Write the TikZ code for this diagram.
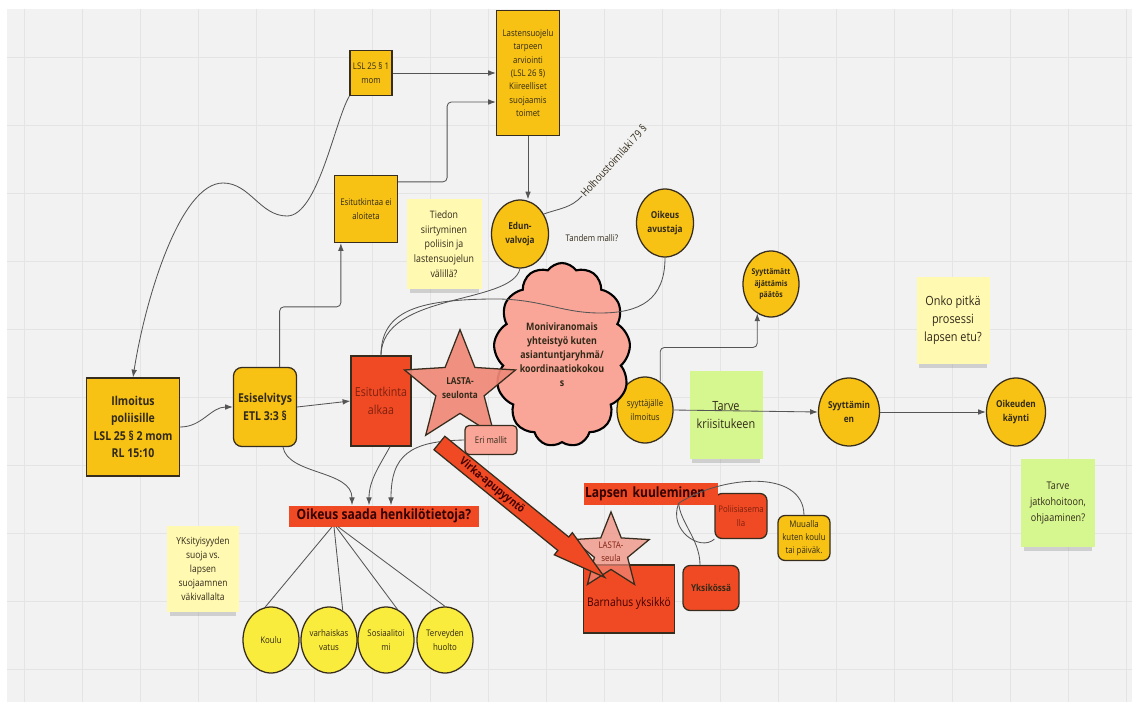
\documentclass[tikz,border=0pt]{standalone}
\usepackage{fontspec}
\setmainfont[FakeStretch=0.86]{Open Sans}
\usepackage{tikz}
\usetikzlibrary{shapes.geometric,shapes.symbols,shapes.arrows,shadows,arrows.meta,calc}
\newcommand{\pu}{0.025cm}

\definecolor{gold}{RGB}{247,194,20}
\definecolor{redfill}{RGB}{240,74,36}
\definecolor{salmon}{RGB}{240,136,120}
\definecolor{pinkish}{RGB}{249,165,152}
\definecolor{lemon}{RGB}{250,236,60}
\definecolor{notey}{RGB}{255,249,178}
\definecolor{noteg}{RGB}{214,246,143}
\definecolor{board}{RGB}{242,242,242}
\definecolor{gridc}{RGB}{228,228,228}
\definecolor{edge}{RGB}{55,45,30}
\definecolor{ink}{RGB}{50,42,25}
\definecolor{darkred}{RGB}{125,32,15}
\definecolor{wirec}{RGB}{85,85,85}

\tikzset{
  lawbox/.style={draw=edge,line width=0.9pt,fill=gold,text=ink,align=center,inner sep=1pt},
  redblock/.style={draw=edge,line width=0.9pt,fill=redfill,text=darkred,align=center,inner sep=1pt},
  ball/.style={ellipse,draw=edge,line width=0.9pt,fill=gold,text=ink,align=center,inner sep=0pt,
    minimum width=57*\pu,minimum height=68*\pu},
  sticky/.style={fill=notey,text=ink,align=center,inner sep=1pt,
    drop shadow={shadow xshift=0pt,shadow yshift=-6pt,shadow scale=0.92,opacity=0.3}},
  tag/.style={fill=redfill,text=black!80!red,font=\bfseries\fontsize{10}{12}\selectfont,inner sep=1pt},
  smalltxt/.style={font=\fontsize{6.5}{9.5}\selectfont},
  boldtxt/.style={font=\bfseries\fontsize{6.8}{9.5}\selectfont},
  wire/.style={draw=wirec,line width=0.6pt},
  >={Latex[length=5.5pt,width=4pt]}
}

\begin{document}
\begin{tikzpicture}[x=0.025cm,y=-0.025cm]
\useasboundingbox (0,0) rectangle (1132,702);
\fill[white] (0,0) rectangle (1132,702);
\fill[board] (7,9) rectangle (1132,702);
\foreach \gx in {24,82,...,1130}{
  \draw[gridc,line width=0.5pt] (\gx,9) -- (\gx,702);
}
\foreach \gy in {57,125,...,700}{
  \draw[gridc,line width=0.5pt] (7,\gy) -- (1132,\gy);
}

% sticky notes
\node[sticky,minimum width=75*\pu,minimum height=89*\pu,font=\fontsize{7.3}{10.4}\selectfont] (tiedon) at (444,244) {Tiedon\\siirtyminen\\poliisin ja\\lastensuojelun\\välillä?};
\node[sticky,minimum width=73*\pu,minimum height=87*\pu,font=\fontsize{9}{13}\selectfont] (onko) at (953,320) {Onko pitkä\\prosessi\\lapsen etu?};
\node[sticky,fill=noteg,minimum width=73*\pu,minimum height=88*\pu,font=\fontsize{9}{13}\selectfont] (kriisi) at (726,415) {Tarve\\kriisitukeen};
\node[sticky,fill=noteg,minimum width=74*\pu,minimum height=88*\pu,font=\fontsize{7.5}{11.5}\selectfont] (jatko) at (1058,503) {Tarve\\jatkohoitoon,\\ohjaaminen?};
\node[sticky,minimum width=72*\pu,minimum height=86*\pu,font=\fontsize{7}{10}\selectfont] (yksit) at (203,569) {YKsityisyyden\\suoja vs.\\lapsen\\suojaamnen\\väkivallalta};

% law boxes
\node[lawbox,minimum width=93*\pu,minimum height=98*\pu,font=\bfseries\fontsize{8.7}{12.2}\selectfont] (ilmo) at (133,427) {Ilmoitus\\poliisille\\LSL 25 § 2 mom\\RL 15:10};
\node[lawbox,rounded corners=6pt,minimum width=63*\pu,minimum height=79*\pu,font=\bfseries\fontsize{8.7}{12.2}\selectfont] (esis) at (265,407) {Esiselvitys\\ETL 3:3 §};
\node[lawbox,smalltxt,minimum width=42*\pu,minimum height=45*\pu] (lsl) at (371,73) {LSL 25 § 1\\mom};
\node[lawbox,smalltxt,minimum width=63*\pu,minimum height=125*\pu] (lsu) at (528,73) {Lastensuojelu\\tarpeen\\arviointi\\(LSL 26 §)\\Kiireelliset\\suojaamis\\toimet};
\node[lawbox,smalltxt,minimum width=63*\pu,minimum height=67*\pu] (ei) at (366,209) {Esitutkintaa ei\\aloiteta};

% red blocks
\node[redblock,minimum width=60*\pu,minimum height=90*\pu,font=\fontsize{8.8}{12.5}\selectfont] (esit) at (381,401) {Esitutkinta\\alkaa};
\node[redblock,text=black!75!red,minimum width=91*\pu,minimum height=68*\pu,font=\fontsize{8.5}{11}\selectfont] (barn) at (629,599) {\\[2pt]Barnahus yksikkö};

% round ones
\node[ball,boldtxt] (edun) at (520,234) {Edun-\\valvoja};
\node[ball,boldtxt] (oik) at (665,223) {Oikeus\\avustaja};
\node[ball,font=\bfseries\fontsize{5.7}{8}\selectfont,minimum width=56*\pu,minimum height=66*\pu] (syp) at (771,284) {Syyttämätt\\äjättämis\\päätös};
\node[ball,smalltxt,minimum width=56*\pu,minimum height=66*\pu] (syi) at (645,410) {syyttäjälle\\ilmoitus};
\node[ball,boldtxt,minimum width=61*\pu] (syn) at (849,412) {Syyttämin\\en};
\node[ball,boldtxt,minimum width=59*\pu] (oke) at (1016,412) {Oikeuden\\käynti};
\node[ball,smalltxt,fill=lemon,minimum width=56*\pu,minimum height=66*\pu] (koulu) at (271,640) {Koulu};
\node[ball,smalltxt,fill=lemon,minimum width=56*\pu,minimum height=66*\pu] (varh) at (329,640) {varhaiskas\\vatus};
\node[ball,smalltxt,fill=lemon,minimum width=56*\pu,minimum height=66*\pu] (sos) at (386,640) {Sosiaalitoi\\mi};
\node[ball,smalltxt,fill=lemon,minimum width=56*\pu,minimum height=66*\pu] (terv) at (445,640) {Terveyden\\huolto};

% cloud and stars
\node[cloud,cloud puffs=13,cloud puff arc=110,aspect=0.7,draw=black,line width=1.5pt,fill=pinkish,
  text=ink,align=center,inner sep=0pt,minimum width=130*\pu,minimum height=184*\pu,
  font=\bfseries\fontsize{7.3}{10}\selectfont] (moni) at (562,355) {Moniviranomais\\yhteistyö kuten\\asiantuntjaryhmä/\\koordinaatiokokou\\s};
\node[star,star points=5,star point ratio=2.3,draw=edge,line width=0.9pt,fill=salmon,fill opacity=0.92,text opacity=1,
  text=ink,align=center,inner sep=0pt,minimum size=112*\pu,font=\bfseries\fontsize{6.8}{9.5}\selectfont] (lasta) at (460,388) {LASTA-\\seulonta};
\node[star,star points=5,star point ratio=2.3,draw=edge,line width=0.9pt,fill=salmon,fill opacity=0.7,text opacity=1,
  text=darkred,align=center,inner sep=0pt,minimum size=74*\pu,smalltxt] (seula) at (611,552) {LASTA-\\seula};

% rounded small boxes
\node[redblock,fill=pinkish,text=ink,rounded corners=3pt,smalltxt,minimum width=52*\pu,minimum height=29*\pu] (eri) at (491,440) {Eri mallit};
\node[redblock,rounded corners=5pt,smalltxt,minimum width=52*\pu,minimum height=45*\pu] (pol) at (741,516) {Poliisiasema\\lla};
\node[lawbox,rounded corners=5pt,smalltxt,minimum width=52*\pu,minimum height=45*\pu] (mua) at (804,538) {Muualla\\kuten koulu\\tai päiväk.};
\node[redblock,text=ink,rounded corners=5pt,boldtxt,minimum width=56*\pu,minimum height=45*\pu] (yks) at (711,588) {Yksikössä};

% labels
\node[tag,minimum width=190*\pu,minimum height=21*\pu] (opi) at (384,516) {Oikeus saada henkilötietoja?};
\node[tag,minimum width=132*\pu,minimum height=22*\pu,text width=132*\pu] (lk) at (651,494) {Lapsen kuuleminen};
\node[smalltxt,text=ink] (tandem) at (592,238) {Tandem malli?};
\coordinate (hol) at (582,196);
\node[font=\fontsize{7.6}{9}\selectfont,text=ink,rotate=48,anchor=west,inner sep=0.5pt] (holtxt) at (hol) {Holhoustoimilaki 79 §};

% connectors
\draw[wire,->] (ilmo.east) to[out=0,in=180] (esis.west);
\draw[wire,->] (esis.east) -- (esit.west);
\draw[wire,->,rounded corners=3pt] (esis.70) -- ++(0,-60) -| ($(ei.south west)+(7,0)$);
\draw[wire,->,rounded corners=3pt] ($(ei.north east)+(0,7)$) -- ++(49,0) |- ($(lsu.west)+(0,29)$);
\draw[wire,->] (lsl.east) -- (lsl.east -| lsu.west);
\draw[wire,->] (lsu.south) -- (lsu.south |- edun.north);
\draw[wire,->] (lsl.south west) .. controls (335,120) and (318,216) .. (287,216)
  .. controls (260,216) and (250,183) .. (223,183)
  .. controls (180,183) and (145,300) .. (ilmo.north);
\draw[wire] (edun.40) to[out=20,in=228] (hol);
\draw[wire] (edun.south) .. controls (512,305) and (382,292) .. (esit.north);
\draw[wire] (oik.south) .. controls (665,300) and (640,313) .. (600,313)
  .. controls (560,313) and (540,298) .. (490,299)
  .. controls (420,300) and (381,310) .. (esit.north);
\draw[wire,->] ($(esis.south)+(18,0)$) .. controls (288,475) and (352,470) .. ($(opi.north)+(-32,0)$);
\draw[wire,->] ($(esit.south)+(9,0)$) .. controls (380,465) and (369,480) .. ($(opi.north)+(-15,0)$);
\draw[wire,->] (eri.west) .. controls (410,441) and (391,455) .. ($(opi.north)+(7,0)$);
\draw[wire] ($(opi.south)+(-52,0)$) -- (koulu.100);
\draw[wire] ($(opi.south)+(-50,0)$) -- (varh.65);
\draw[wire] ($(opi.south)+(-48,0)$) -- (sos.70);
\draw[wire] ($(opi.south)+(-46,0)$) -- (terv.north);
\draw[wire,->,rounded corners=3pt] (syi.62) -- ++(0,-34) -| (syp.-115);
\draw[wire,->] (syi.east) -- (syn.west);
\draw[wire,->] (syn.east) -- (oke.west);
\coordinate (lkhub) at ($(lk.south east)+(-40,-2)$);
\draw[wire] (lkhub) .. controls (720,476) and (803,468) .. (mua.north);
\draw[wire] (lkhub) .. controls (668,530) and (700,552) .. (pol.south west);
\draw[wire] (lkhub) .. controls (680,522) and (700,540) .. ($(yks.north)+(-11,0)$);

% big arrow
\node[single arrow,draw=edge,line width=0.9pt,fill=redfill,rotate=-39.1,minimum height=213*\pu,
  single arrow head extend=4pt,single arrow tip angle=30,inner xsep=0pt,inner ysep=5.7pt] (virka) at (509.5,500) {};
\node[font=\bfseries\fontsize{8}{9}\selectfont,text=black!75!red,rotate=-39.1,inner sep=0pt] (virkatxt) at (492,486) {Virka-apupyyntö};
\end{tikzpicture}
\end{document}
